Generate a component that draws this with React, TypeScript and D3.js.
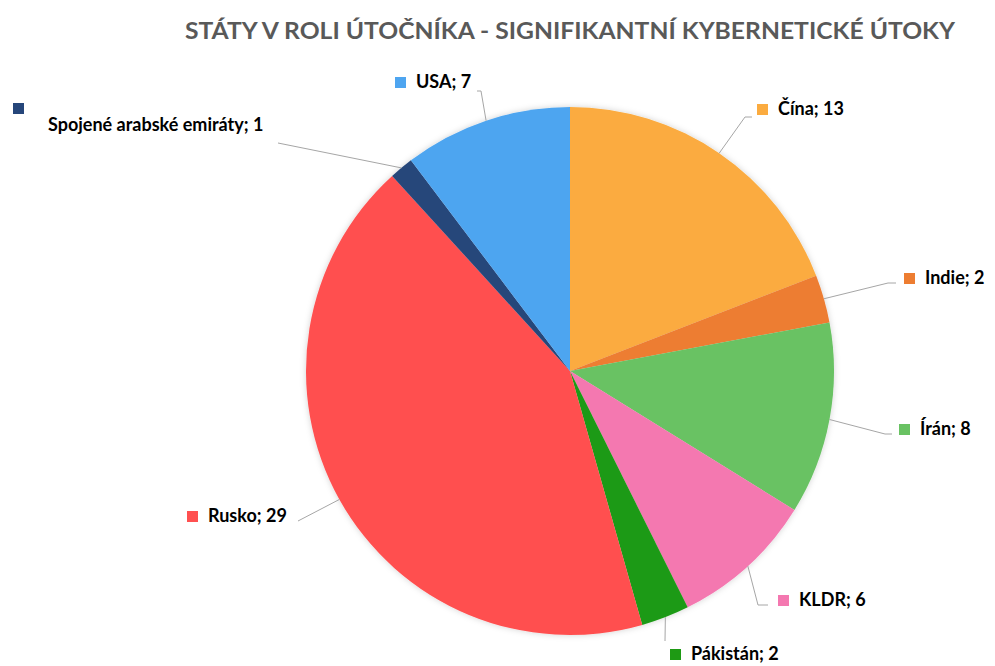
import React, { useEffect, useRef } from 'react'
import * as d3 from 'd3'

const countries = ['Čína', 'Indie', 'Írán', 'KLDR', 'Pákistán', 'Rusko', 'Spojené arabské emiráty', 'USA']
const attacks = [13, 2, 8, 6, 2, 29, 1, 7]
const colors = ['#FBAB3F', '#ED7D31', '#69C263', '#F478B0', '#1E9A14', '#FF5050', '#26467A', '#4EA5F0']

// label layout: [square x, text baseline y, leader elbow x, elbow y, leader end x]
const labelLayout: [number, number, number, number, number][] = [
    [757, 115, 745, 117, 752],
    [904, 284, 888, 283, 896],
    [899, 435, 885, 434, 892],
    [778, 606, 758, 605, 768],
    [670, 660, 665, 641, 665],
    [187, 522, 298, 521, 298],
    [13, 131, 278, 143, 278],
    [395, 88, 481, 91, 477],
]

const W = 995
const H = 666
const cx = 570
const cy = 371
const radius = 264

const App = () => {
    const ref = useRef<SVGSVGElement | null>(null)

    useEffect(() => {
        document.body.style.margin = '0'
        const svg = d3.select(ref.current)
        svg.selectAll('*').remove()

        const defs = svg.append('defs')
        const f = defs.append('filter').attr('id', 'glow').attr('x', '-10%').attr('y', '-10%').attr('width', '120%').attr('height', '120%')
        f.append('feDropShadow').attr('dx', 0).attr('dy', 0).attr('stdDeviation', 3).attr('flood-color', '#000').attr('flood-opacity', 0.18)

        svg.append('rect').attr('width', W).attr('height', H).attr('fill', '#fff')

        svg.append('text')
            .attr('x', 570)
            .attr('y', 39)
            .attr('text-anchor', 'middle')
            .attr('font-family', 'Lato, "Open Sans", sans-serif')
            .attr('font-weight', 'bold')
            .attr('font-size', 23)
            .attr('fill', '#595959')
            .attr('textLength', 770)
            .attr('lengthAdjust', 'spacingAndGlyphs')
            .text('STÁTY V ROLI ÚTOČNÍKA - SIGNIFIKANTNÍ KYBERNETICKÉ ÚTOKY')

        const data = countries.map((c, i) => ({ name: c, value: attacks[i], color: colors[i], layout: labelLayout[i] }))

        const pie = d3.pie<any>().value(d => d.value).sort(null)
        const arcs = pie(data)
        const arc = d3.arc<any>().innerRadius(0).outerRadius(radius)

        const g = svg.append('g').attr('transform', `translate(${cx},${cy})`)
        const shadow = g.append('g').attr('filter', 'url(#glow)')
        shadow.selectAll('path')
            .data(arcs)
            .join('path')
            .attr('d', arc)
            .attr('fill', d => d.data.color)

        // leader lines
        const lines = svg.append('g')
        arcs.forEach(a => {
            const mid = (a.startAngle + a.endAngle) / 2
            const px = cx + radius * Math.sin(mid)
            const py = cy - radius * Math.cos(mid)
            const [, , ex, ey, endX] = a.data.layout
            lines.append('polyline')
                .attr('points', `${px},${py} ${ex},${ey} ${endX},${ey}`)
                .attr('fill', 'none')
                .attr('stroke', '#A6A6A6')
                .attr('stroke-width', 1)
        })

        const labels = svg.append('g')
        arcs.forEach(a => {
            const [sx, ty] = a.data.layout
            const isSae = a.data.name.startsWith('Spojené')
            labels.append('rect')
                .attr('x', sx)
                .attr('y', isSae ? 103 : ty - 11)
                .attr('width', 11)
                .attr('height', 11)
                .attr('fill', a.data.color)
            labels.append('text')
                .attr('x', isSae ? 48 : sx + 21)
                .attr('y', ty)
                .attr('font-family', 'Lato, "Open Sans", sans-serif')
                .attr('font-weight', 'bold')
                .attr('font-size', 18)
                .attr('fill', '#000')
                .text(`${a.data.name}; ${a.data.value}`)
        })
    }, [])

    return (
        <svg ref={ref} width={W} height={H} style={{ display: 'block' }} />
    )
}

export default App
